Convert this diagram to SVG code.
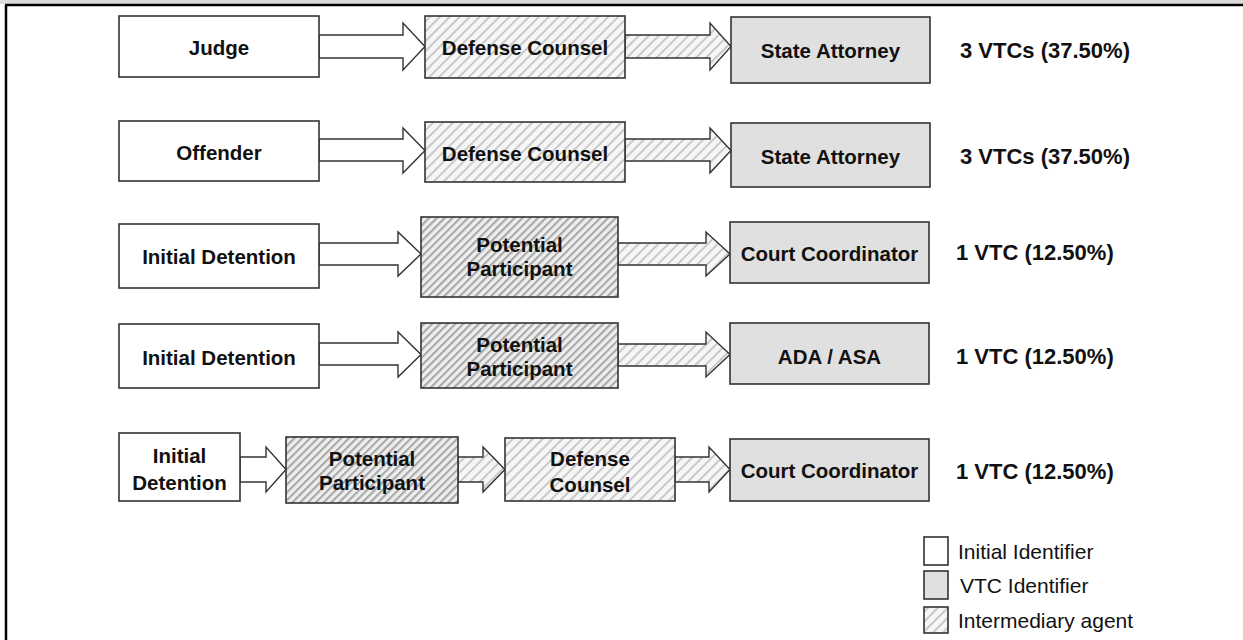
<svg xmlns="http://www.w3.org/2000/svg" width="1243" height="640" viewBox="0 0 1243 640">
  <style>
    .box { stroke: #333; stroke-width: 1.6; }
    .init { fill: #ffffff; }
    .vtc { fill: #e0e0e0; }
    .mid { fill: url(#hatchLight); }
    .pp { fill: url(#hatchDark); }
    .arrow { stroke: #333; stroke-width: 1.4; stroke-linejoin: miter; }
    .a-plain { fill: #ffffff; }
    .a-hatch { fill: url(#hatchLight); }
    .lbl { font-family: "Liberation Sans", Arial, sans-serif; font-weight: bold; font-size: 20.5px; fill: #111; text-anchor: middle; dominant-baseline: central; }
    .count { font-family: "Liberation Sans", Arial, sans-serif; font-weight: bold; font-size: 22px; fill: #111; dominant-baseline: central; }
    .legend { font-family: "Liberation Sans", Arial, sans-serif; font-size: 21px; fill: #111; dominant-baseline: central; }
  </style>
  <defs>
    <pattern id="hatchLight" patternUnits="userSpaceOnUse" width="7" height="7" patternTransform="rotate(45)">
      <rect width="7" height="7" fill="#f6f6f6"/>
      <line x1="1" y1="0" x2="1" y2="7" stroke="#c9c9c9" stroke-width="2"/>
    </pattern>
    <pattern id="hatchDark" patternUnits="userSpaceOnUse" width="5.5" height="5.5" patternTransform="rotate(45)">
      <rect width="5.5" height="5.5" fill="#eeeeee"/>
      <line x1="1" y1="0" x2="1" y2="5.5" stroke="#a8a8a8" stroke-width="2.2"/>
    </pattern>
  </defs>

  <!-- page frame -->
  <rect x="0" y="0" width="1243" height="4" fill="#dcdcdc"/>
  <line x1="5" y1="5" x2="1243" y2="5" stroke="#000" stroke-width="2.5"/>
  <line x1="6" y1="5" x2="6" y2="640" stroke="#000" stroke-width="2.5"/>

  <!-- connectors -->
  <g id="connectors">
    <!-- row 1 -->
    <polygon class="arrow a-plain" points="319,35 403,35 403,23 425,46.5 403,70 403,58 319,58"/>
    <polygon class="arrow a-hatch" points="625,35 710,35 710,23 731,46.5 710,70 710,58 625,58"/>
    <!-- row 2 -->
    <polygon class="arrow a-plain" points="319,139 403,139 403,128 425,150.5 403,173 403,161 319,161"/>
    <polygon class="arrow a-hatch" points="625,139 710,139 710,128 731,150.5 710,173 710,161 625,161"/>
    <!-- row 3 -->
    <polygon class="arrow a-plain" points="319,243 398,243 398,232 421,254 398,276 398,265 319,265"/>
    <polygon class="arrow a-hatch" points="618,243 706,243 706,232 730,254 706,276 706,265 618,265"/>
    <!-- row 4 -->
    <polygon class="arrow a-plain" points="319,343 398,343 398,332 421,354.5 398,377 398,365 319,365"/>
    <polygon class="arrow a-hatch" points="618,344 706,344 706,332 730,354.5 706,377 706,366 618,366"/>
    <!-- row 5 -->
    <polygon class="arrow a-plain" points="240,457 266,457 266,447 286,469.5 266,492 266,482 240,482"/>
    <polygon class="arrow a-hatch" points="458,457 483,457 483,447 505,469.5 483,492 483,482 458,482"/>
    <polygon class="arrow a-hatch" points="675,457 709,457 709,447 730,469.5 709,492 709,482 675,482"/>
  </g>

  <!-- row 1 -->
  <g id="r1-judge">
    <rect class="box init" x="119" y="16" width="200" height="61"/>
    <text class="lbl" x="219" y="47">Judge</text>
  </g>
  <g id="r1-defense">
    <rect class="box mid" x="425" y="16" width="200" height="62"/>
    <text class="lbl" x="525" y="47">Defense Counsel</text>
  </g>
  <g id="r1-state">
    <rect class="box vtc" x="731" y="17" width="199" height="66"/>
    <text class="lbl" x="830.5" y="50">State Attorney</text>
  </g>
  <text id="r1-count" class="count" x="960" y="50">3 VTCs (37.50%)</text>

  <!-- row 2 -->
  <g id="r2-offender">
    <rect class="box init" x="119" y="121" width="200" height="60"/>
    <text class="lbl" x="219" y="152">Offender</text>
  </g>
  <g id="r2-defense">
    <rect class="box mid" x="425" y="122" width="200" height="60"/>
    <text class="lbl" x="525" y="153">Defense Counsel</text>
  </g>
  <g id="r2-state">
    <rect class="box vtc" x="731" y="123" width="199" height="64"/>
    <text class="lbl" x="830.5" y="156">State Attorney</text>
  </g>
  <text id="r2-count" class="count" x="960" y="156">3 VTCs (37.50%)</text>

  <!-- row 3 -->
  <g id="r3-detention">
    <rect class="box init" x="119" y="224" width="200" height="64"/>
    <text class="lbl" x="219" y="256">Initial Detention</text>
  </g>
  <g id="r3-participant">
    <rect class="box pp" x="421" y="217" width="197" height="80"/>
    <text class="lbl" x="519.5" y="244">Potential</text>
    <text class="lbl" x="519.5" y="268">Participant</text>
  </g>
  <g id="r3-coordinator">
    <rect class="box vtc" x="730" y="222" width="199" height="61"/>
    <text class="lbl" x="829.5" y="253">Court Coordinator</text>
  </g>
  <text id="r3-count" class="count" x="956" y="252">1 VTC (12.50%)</text>

  <!-- row 4 -->
  <g id="r4-detention">
    <rect class="box init" x="119" y="324" width="200" height="64"/>
    <text class="lbl" x="219" y="357">Initial Detention</text>
  </g>
  <g id="r4-participant">
    <rect class="box pp" x="421" y="323" width="197" height="65"/>
    <text class="lbl" x="519.5" y="344">Potential</text>
    <text class="lbl" x="519.5" y="368">Participant</text>
  </g>
  <g id="r4-ada">
    <rect class="box vtc" x="730" y="323" width="199" height="61"/>
    <text class="lbl" x="829.5" y="356">ADA / ASA</text>
  </g>
  <text id="r4-count" class="count" x="956" y="356">1 VTC (12.50%)</text>

  <!-- row 5 -->
  <g id="r5-detention">
    <rect class="box init" x="119" y="433" width="121" height="68"/>
    <text class="lbl" x="179.5" y="455">Initial</text>
    <text class="lbl" x="179.5" y="482">Detention</text>
  </g>
  <g id="r5-participant">
    <rect class="box pp" x="286" y="437" width="172" height="66"/>
    <text class="lbl" x="372" y="458">Potential</text>
    <text class="lbl" x="372" y="482">Participant</text>
  </g>
  <g id="r5-defense">
    <rect class="box mid" x="505" y="438" width="170" height="63"/>
    <text class="lbl" x="590" y="458">Defense</text>
    <text class="lbl" x="590" y="484">Counsel</text>
  </g>
  <g id="r5-coordinator">
    <rect class="box vtc" x="730" y="439" width="199" height="62"/>
    <text class="lbl" x="829.5" y="470">Court Coordinator</text>
  </g>
  <text id="r5-count" class="count" x="956" y="471">1 VTC (12.50%)</text>

  <!-- legend -->
  <g id="legend">
    <rect class="box init" x="924" y="537" width="24" height="28"/>
    <text class="legend" x="958" y="551">Initial Identifier</text>
    <rect class="box vtc" x="924" y="571" width="24" height="28"/>
    <text class="legend" x="960" y="585">VTC Identifier</text>
    <rect class="box mid" x="924" y="607" width="24" height="26"/>
    <text class="legend" x="958" y="620">Intermediary agent</text>
  </g>
</svg>
